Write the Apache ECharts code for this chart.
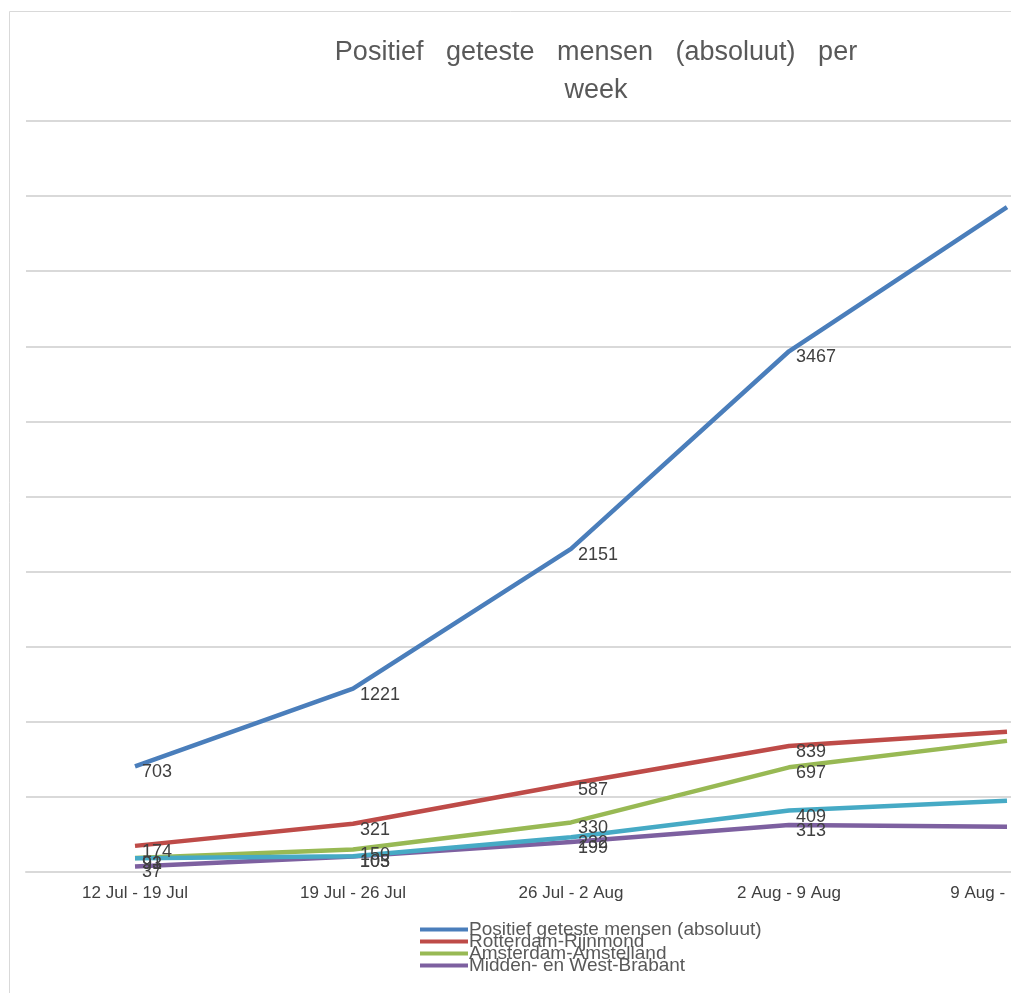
<!DOCTYPE html>
<html><head><meta charset="utf-8">
<script src="https://cdn.jsdelivr.net/npm/echarts@6/dist/echarts.min.js"></script>
<style>html,body{margin:0;padding:0;background:#fff}#c{width:1011px;height:993px}</style>
</head><body><div id="c"></div>
<script>
const categories = ['12 Jul - 19 Jul', '19 Jul - 26 Jul', '26 Jul - 2 Aug', '2 Aug - 9 Aug', '9 Aug - 16 Aug'];
const positiefTotaal = [703, 1221, 2151, 3467, 4427];
const rotterdamRijnmond = [174, 321, 587, 839, 933];
const amsterdamAmstelland = [93, 150, 330, 697, 873];
const middenWestBrabant = [37, 103, 199, 313, 302];
const haaglanden = [91, 105, 232, 409, 475];
const legendNames = ['Positief geteste mensen (absoluut)', 'Rotterdam-Rijnmond', 'Amsterdam-Amstelland', 'Midden- en West-Brabant'];

const font = 'Liberation Sans';
function mk(name, data, color) {
  return {
    name, type: 'line', data, symbol: 'circle', symbolSize: 0, showSymbol: true, smooth: false,
    lineStyle: { color, width: 4.5 }, itemStyle: { color },
    label: { show: true, position: [7, -3], align: 'left', verticalAlign: 'top', color: '#404040', fontSize: 18, fontFamily: font },
    labelLayout: { hideOverlap: false },
    emphasis: { disabled: true }, animation: false
  };
}
const legends = legendNames.map((n, i) => ({
  data: [n], orient: 'vertical', left: 420, top: 920 + i * 12, padding: 0,
  icon: 'rect', itemWidth: 48, itemHeight: 4, itemGap: 0, selectedMode: false,
  textStyle: { color: '#595959', fontSize: 19, fontFamily: font, padding: [2, 0, 0, -4] }
}));
const chart = echarts.init(document.getElementById('c'), null, { renderer: 'canvas' });
chart.setOption({
  animation: false,
  title: {
    text: 'Positief   geteste   mensen   (absoluut)   per\nweek',
    left: 591, top: 29, textAlign: 'center',
    textStyle: { color: '#595959', fontSize: 27, fontWeight: 'normal', fontFamily: font, lineHeight: 38 }
  },
  graphic: [{ type: 'rect', shape: { x: 9.5, y: 11.5, width: 1200, height: 1200 }, style: { fill: 'none', stroke: '#d9d9d9', lineWidth: 1 }, silent: true }],
  legend: legends,
  grid: { left: 26, width: 1090, top: 121, bottom: 121, containLabel: false, outerBoundsMode: 'none' },
  xAxis: {
    type: 'category', data: categories, boundaryGap: true,
    axisLine: { lineStyle: { color: '#d9d9d9', width: 2 } },
    axisTick: { show: false },
    axisLabel: { color: '#404040', fontSize: 17, fontFamily: font, margin: 13 },
    splitLine: { show: false }
  },
  yAxis: {
    type: 'value', min: 0, max: 5000, interval: 500,
    axisLine: { show: false }, axisTick: { show: false }, axisLabel: { show: false },
    splitLine: { lineStyle: { color: '#d9d9d9', width: 2 } }
  },
  series: [
    mk('Positief geteste mensen (absoluut)', positiefTotaal, '#4a7ebb'),
    mk('Rotterdam-Rijnmond', rotterdamRijnmond, '#be4b48'),
    mk('Amsterdam-Amstelland', amsterdamAmstelland, '#98b954'),
    mk('Midden- en West-Brabant', middenWestBrabant, '#7d60a0'),
    mk('Haaglanden', haaglanden, '#46aac5')
  ]
});
</script></body></html>
